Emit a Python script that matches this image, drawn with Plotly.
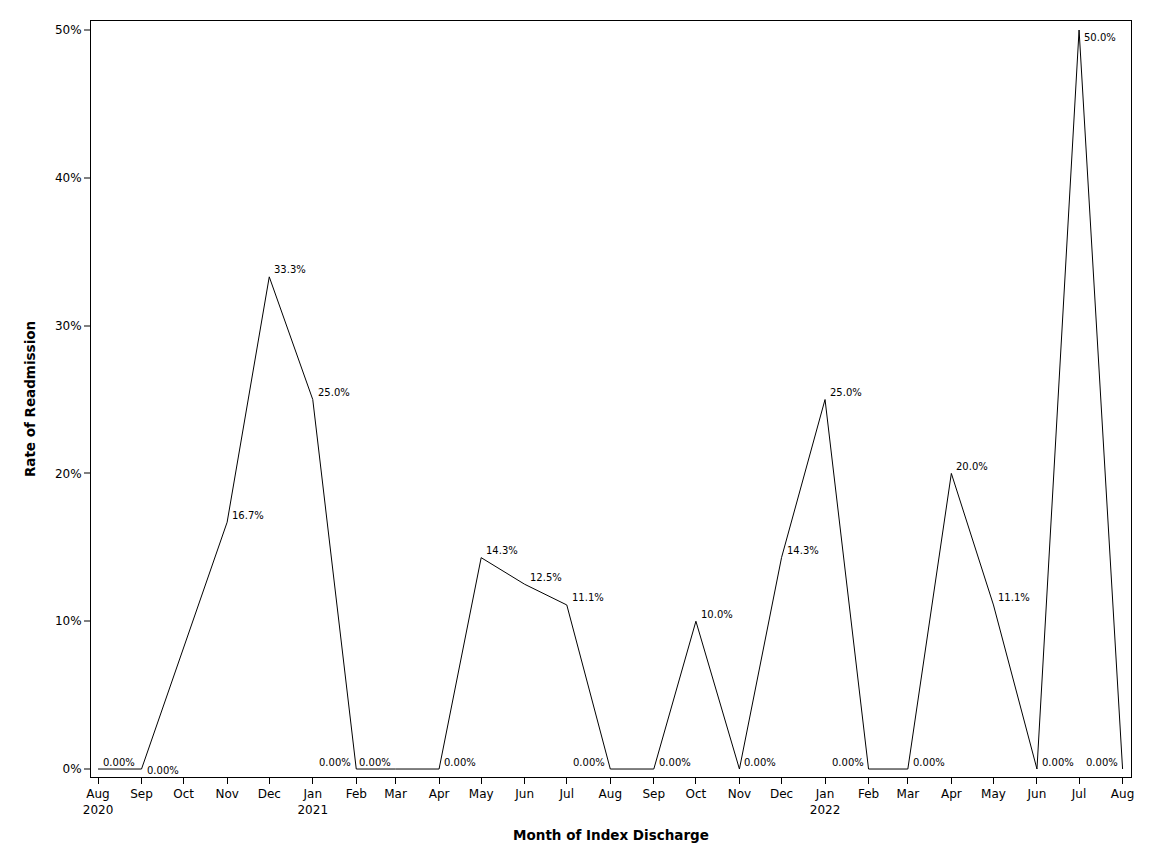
import plotly.graph_objects as go
import pandas as pd

# Data
months = ["2020-08-01", "2020-09-01", "2020-11-01", "2020-12-01", "2021-01-01",
          "2021-02-01", "2021-03-01", "2021-04-01", "2021-05-01", "2021-06-01",
          "2021-07-01", "2021-08-01", "2021-09-01", "2021-10-01", "2021-11-01",
          "2021-12-01", "2022-01-01", "2022-02-01", "2022-03-01", "2022-04-01",
          "2022-05-01", "2022-06-01", "2022-07-01", "2022-08-01"]
rates = [0.0, 0.0, 0.167, 0.333, 0.25,
         0.0, 0.0, 0.0, 0.143, 0.125,
         0.111, 0.0, 0.0, 0.10, 0.0,
         0.143, 0.25, 0.0, 0.0, 0.20,
         0.111, 0.0, 0.50, 0.0]

tick_dates = pd.date_range("2020-08-01", "2022-08-01", freq="MS")
tick_months = [d.strftime("%Y-%m-%d") for d in tick_dates]
tick_labels = [d.strftime("%b") + ("<br>" + d.strftime("%Y") if (d.month == 1 or i == 0) else "")
               for i, d in enumerate(tick_dates)]

labels = ["0.00%" if v == 0 else f"{v*100:.1f}%" for v in rates]

# label placement (style): side of the point and vertical placement
label_side = ["R", "R", "R", "R", "R",
              "L", "L", "R", "R", "R",
              "R", "L", "R", "R", "R",
              "R", "R", "L", "R", "R",
              "R", "R", "R", "L"]
label_vert = ["up", "mid", "up", "up", "up",
              "up", "up", "up", "up", "up",
              "up", "up", "up", "up", "up",
              "up", "up", "up", "up", "up",
              "up", "up", "down", "up"]

FONT = "DejaVu Sans"

fig = go.Figure()
fig.add_trace(go.Scatter(
    x=months, y=rates, mode="lines",
    line=dict(color="black", width=1),
    showlegend=False, hoverinfo="skip",
))

vshift = {"up": 7, "mid": -1, "down": -7}
for xm, yv, txt, side, vert in zip(months, rates, labels, label_side, label_vert):
    fig.add_annotation(
        x=xm, y=yv, text=txt, showarrow=False,
        xanchor="left" if side == "R" else "right",
        yanchor="middle",
        xshift=3 if side == "R" else -3,
        yshift=vshift[vert],
        font=dict(family=FONT, size=10, color="black"),
    )

fig.update_layout(
    width=1152, height=864,
    margin=dict(l=83, r=29, t=13, b=95),
    plot_bgcolor="white", paper_bgcolor="white",
    font=dict(family=FONT, size=12, color="black"),
)
fig.update_xaxes(
    range=["2020-07-27", "2022-08-07"],
    tickvals=tick_months, ticktext=tick_labels,
    ticks="outside", ticklen=6, tickcolor="black", tickwidth=1,
    showline=True, linecolor="black", linewidth=1, mirror=True,
    showgrid=False, zeroline=False,
    tickfont=dict(family=FONT, size=12),
    title=dict(text="<b>Month of Index Discharge</b>", font=dict(family=FONT, size=13.5), standoff=14),
)
fig.update_yaxes(
    range=[-0.0054, 0.5061],
    tickvals=[0, 0.1, 0.2, 0.3, 0.4, 0.5], tickformat=".0%",
    ticks="outside", ticklen=6, tickcolor="#808080", tickwidth=2,
    showline=True, linecolor="black", linewidth=1, mirror=True,
    showgrid=False, zeroline=False,
    tickfont=dict(family=FONT, size=12),
    title=dict(text="<b>Rate of Readmission</b>", font=dict(family=FONT, size=13.5), standoff=16),
)

fig.write_html("out.html")
